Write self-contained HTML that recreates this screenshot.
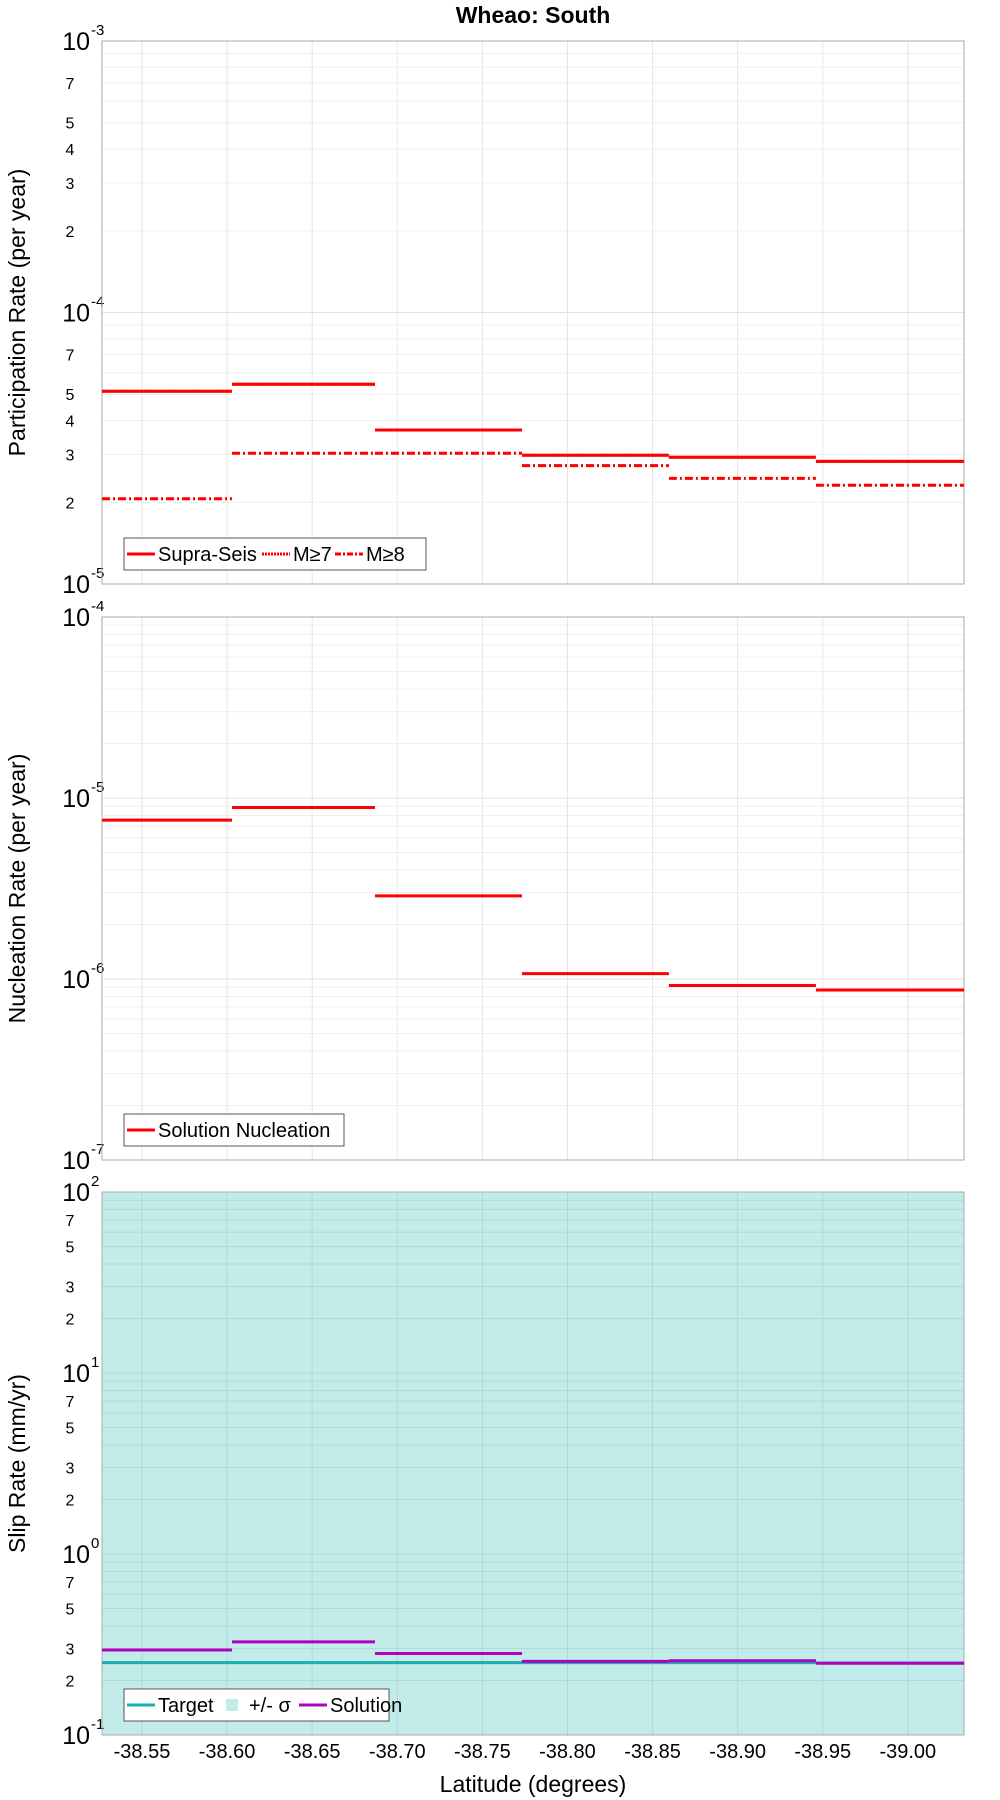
<!DOCTYPE html>
<html><head><meta charset="utf-8"><style>
html,body{margin:0;padding:0;background:#fff;}
svg{display:block;font-family:"Liberation Sans","DejaVu Sans",sans-serif;}
</style></head><body>
<svg id="chart" width="1000" height="1800" viewBox="0 0 1000 1800">
<text x="533" y="23" text-anchor="middle" font-size="23" font-weight="bold">Wheao: South</text>
<text x="533" y="1792" text-anchor="middle" font-size="23">Latitude (degrees)</text>
</svg>
<script>
const segBounds = [-38.5265, -38.6029, -38.6869, -38.7733, -38.8596, -38.946, -39.033];
const xTicks = [-38.55, -38.60, -38.65, -38.70, -38.75, -38.80, -38.85, -38.90, -38.95, -39.00];
const supraSeis = [5.13e-5, 5.44e-5, 3.69e-5, 2.98e-5, 2.93e-5, 2.83e-5];
const m7 = [5.13e-5, 5.44e-5, 3.69e-5, 2.98e-5, 2.93e-5, 2.83e-5];
const m8 = [2.06e-5, 3.03e-5, 3.03e-5, 2.73e-5, 2.45e-5, 2.31e-5];
const nucleation = [7.55e-6, 8.86e-6, 2.88e-6, 1.07e-6, 9.2e-7, 8.7e-7];
const targetSlip = [0.251, 0.251, 0.251, 0.251, 0.251, 0.25];
const solutionSlip = [0.295, 0.327, 0.282, 0.255, 0.257, 0.249];

const NS = 'http://www.w3.org/2000/svg';
const svg = document.getElementById('chart');
const X0 = 102, X1 = 964;
const xMin = segBounds[0], xMax = segBounds[segBounds.length - 1];
function xs(v){ return X0 + (v - xMin) / (xMax - xMin) * (X1 - X0); }
function mk(tag, attrs, parent){ const e = document.createElementNS(NS, tag); for (const k in attrs) e.setAttribute(k, attrs[k]); (parent||svg).appendChild(e); return e; }

function panel(cfg){
  const g = mk('g', {});
  
  
  const ys = v => cfg.bot - (Math.log10(v) - cfg.lo) / (cfg.hi - cfg.lo) * (cfg.bot - cfg.top);
  if (cfg.fill) { const r = mk('rect', {x:X0, y:cfg.top, width:X1-X0, height:cfg.bot-cfg.top, fill:'#c2ecea'}, g);   }
  for (let d = cfg.lo; d < cfg.hi; d++) {
    for (let m = 1; m <= 9; m++) {
      const v = m * Math.pow(10, d); const y = ys(v);
      mk('line', {x1:X0, x2:X1, y1:y, y2:y, stroke: cfg.fill ? '#b0d8d6' : (m===1?'#e2e2e2':'#efefef'), 'stroke-width':1}, g);
      if (m === 1) {
        const t = mk('text', {x:90, y:y+9, 'text-anchor':'end', 'font-size':25}, g);
        t.textContent = '10';
         
        const s = mk('text', {x:91, y:y-6, 'font-size':15}, g); s.textContent = String(d);
      } else if (cfg.minor.includes(m)) {
        const t = mk('text', {x:70, y:y+6, 'text-anchor':'middle', 'font-size':16}, g); t.textContent = String(m);
         
      }
    }
  }
  const yTop = ys(Math.pow(10, cfg.hi));
  const t = mk('text', {x:90, y:yTop+9, 'text-anchor':'end', 'font-size':25}, g); t.textContent = '10';
  const s = mk('text', {x:91, y:yTop-6, 'font-size':15}, g); s.textContent = String(cfg.hi);
  xTicks.forEach(v => { const x = xs(v); mk('line', {x1:x, x2:x, y1:cfg.top, y2:cfg.bot, stroke: cfg.fill ? '#b0d8d6' : '#e6e6e6'}, g); });
  mk('rect', {x:X0, y:cfg.top, width:X1-X0, height:cfg.bot-cfg.top, fill:'none', stroke:'#aaa'}, g);
  cfg.series.forEach(sr => {
    sr.vals.forEach((v, i) => {
      const y = ys(v);
      const l = mk('line', {x1:xs(segBounds[i]), x2:xs(segBounds[i+1]), y1:y, y2:y, stroke:sr.color, 'stroke-width':3}, g);
      if (sr.dash) l.setAttribute('stroke-dasharray', sr.dash);
      
      
    });
  });
  const yt = mk('text', {x:0, y:0, 'text-anchor':'middle', 'font-size':23, transform:`translate(25,${(cfg.top+cfg.bot)/2}) rotate(-90)`}, g);
  yt.textContent = cfg.ytitle;
   
  const lg = mk('g', {}, g);
   
  mk('rect', {x:124, y:cfg.bot-46, width:cfg.legW, height:32, fill:'#fff', stroke:'#555'}, lg);
  let lx = 127; const ly = cfg.bot - 30;
  cfg.legend.forEach(e => {
    if (e.box) mk('rect', {x:lx+8, y:ly-6, width:12, height:12, fill:e.color}, lg);
    else { const l = mk('line', {x1:lx, x2:lx+28, y1:ly, y2:ly, stroke:e.color, 'stroke-width':3}, lg); if (e.dash) l.setAttribute('stroke-dasharray', e.dash); }
    const tx = mk('text', {x:lx+31, y:ly+7, 'font-size':20}, lg); tx.textContent = e.label;
     
    lx += 31 + e.w;
  });
  return g;
}

panel({name:'participation-panel', top:41, bot:584, lo:-5, hi:-3, minor:[2,3,4,5,7], ytitle:'Participation Rate (per year)', legW:302,
  series:[{id:'m8', vals:m8, color:'#f00', dash:'8,3,2,3'},{id:'m7', vals:m7, color:'#f00', dash:'2,1'},{id:'supra-seis', vals:supraSeis, color:'#f00'}],
  legend:[{label:'Supra-Seis', color:'#f00', w:104},{label:'M≥7', color:'#f00', dash:'2,1', w:42},{label:'M≥8', color:'#f00', dash:'6,2,2,2', w:40}]});
panel({name:'nucleation-panel', top:617, bot:1160, lo:-7, hi:-4, minor:[], ytitle:'Nucleation Rate (per year)', legW:220,
  series:[{id:'solution-nucleation', vals:nucleation, color:'#f00'}],
  legend:[{label:'Solution Nucleation', color:'#f00', w:190}]});
panel({name:'slip-rate-panel', top:1192, bot:1735, lo:-1, hi:2, minor:[2,3,5,7], ytitle:'Slip Rate (mm/yr)', legW:265, fill:true,
  series:[{id:'target-slip', vals:targetSlip, color:'#1aaeae'},{id:'solution-slip', vals:solutionSlip, color:'#b000c0'}],
  legend:[{label:'Target', color:'#1aaeae', w:60},{label:'+/- σ', color:'#c2ecea', box:true, w:50},{label:'Solution', color:'#b000c0', w:80}]});

xTicks.forEach(v => {
  const t = mk('text', {x:xs(v), y:1758, 'text-anchor':'middle', 'font-size':20});
  t.textContent = v.toFixed(2);
  
  
});
</script>
</body></html>
